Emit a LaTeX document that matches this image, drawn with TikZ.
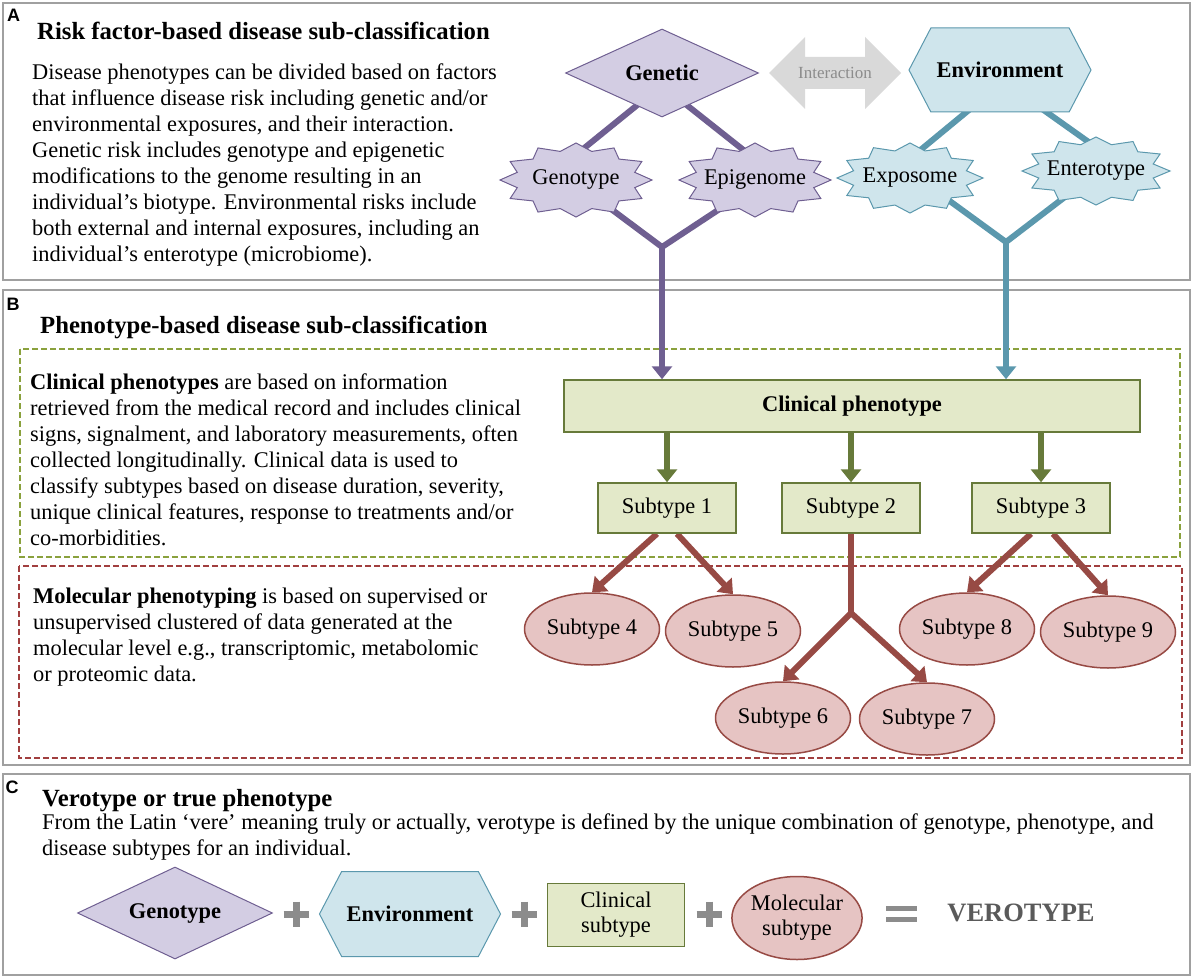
\documentclass[tikz,border=0pt]{standalone}
\usepackage{fontspec}
\setmainfont{Liberation Serif}
\setsansfont{Liberation Sans}
\usetikzlibrary{shapes.geometric}
\usetikzlibrary{shapes.symbols}
\usetikzlibrary{arrows.meta}
\usetikzlibrary{backgrounds}

\definecolor{panelgray}{RGB}{160,160,160}
\definecolor{genfill}{RGB}{211,205,227}
\definecolor{gendraw}{RGB}{111,95,145}
\definecolor{envfill}{RGB}{207,229,236}
\definecolor{envdraw}{RGB}{91,152,173}
\definecolor{clinfill}{RGB}{227,233,201}
\definecolor{clindraw}{RGB}{103,122,58}
\definecolor{clindash}{RGB}{138,161,61}
\definecolor{molfill}{RGB}{230,196,195}
\definecolor{moldraw}{RGB}{151,74,68}
\definecolor{moldash}{RGB}{161,63,63}
\definecolor{interfill}{RGB}{217,217,217}
\definecolor{intertext}{RGB}{140,140,140}
\definecolor{plusgray}{RGB}{140,140,140}
\definecolor{verogray}{RGB}{90,90,90}

% star burst: name, x, y, rx, ry, fill/draw colours, text
% (the named node is the inner ellipse of the star)
\newcommand\burst[7]{%
  \filldraw[#6, line width=1pt] plot[samples at={0,15,...,345}]
    ({#2+(1-0.2*mod(\x/15,2))*#4*cos(\x)},{#3+(1-0.2*mod(\x/15,2))*#5*sin(\x)}) -- cycle;
  \node[ellipse, inner sep=0, outer sep=0, minimum width={1.6*#4pt}, minimum height={1.6*#5pt}] (#1) at (#2,#3) {#7};}

\tikzset{
  panel/.style={draw=panelgray, line width=2pt},
  panellabel/.style={font=\sffamily\bfseries\fontsize{18}{20}\selectfont, inner sep=0},
  paneltitle/.style={font=\bfseries\fontsize{24.7}{28}\selectfont, anchor=base west, inner sep=0},
  textblock/.style={anchor=north west, align=left, inner sep=0},
  genshape/.style={diamond, fill=genfill, draw=gendraw, line width=1pt, inner sep=0, aspect=2.2},
  envshape/.style={signal, signal to=west and east, signal pointer angle=125, fill=envfill, draw=envdraw, line width=1pt, inner sep=0},
  clinbox/.style={rectangle, fill=clinfill, draw=clindraw, line width=1.5pt, inner sep=0},
  molshape/.style={ellipse, fill=molfill, draw=moldraw, line width=1.5pt, inner sep=0, minimum width=135pt, minimum height=72pt},
  genline/.style={draw=gendraw, line width=6pt},
  envline/.style={draw=envdraw, line width=6pt},
  clinline/.style={draw=clindraw, line width=6pt},
  molline/.style={draw=moldraw, line width=6pt},
  plusbar/.style={draw=plusgray, line width=7pt},
}

\begin{document}
\begin{tikzpicture}[x=1pt,y=-1pt,font=\fontsize{22.4}{26}\selectfont,>={Triangle[length=13pt,width=20pt]}]
\useasboundingbox (0,0) rectangle (1194,979);

% panel labels and titles
\node[panellabel] (labA) at (13.5,15.5) {A};
\node[panellabel] (labB) at (13,304) {B};
\node[panellabel] (labC) at (12,787) {C};
\node[paneltitle] (titA) at (37,40) {Risk factor-based disease sub-classification};
\node[paneltitle] (titB) at (40,333) {Phenotype-based disease sub-classification};
\node[paneltitle] (titC) at (42,806) {Verotype or true phenotype};

% text blocks
\node[textblock] (risktext) at (32,64) {Disease phenotypes can be divided based on factors\\
that influence disease risk including genetic and/or\\
environmental exposures, and their interaction.\\
Genetic risk includes genotype and epigenetic\\
modifications to the genome resulting in an\\
individual’s biotype. Environmental risks include\\
both external and internal exposures, including an\\
individual’s enterotype (microbiome).};
\node[textblock] (clintext) at (30,374) {\textbf{Clinical phenotypes} are based on information\\
retrieved from the medical record and includes clinical\\
signs, signalment, and laboratory measurements, often\\
collected longitudinally. Clinical data is used to\\
classify subtypes based on disease duration, severity,\\
unique clinical features, response to treatments and/or\\
co-morbidities.};
\node[textblock] (moltext) at (33,588) {\textbf{Molecular phenotyping} is based on supervised or\\
unsupervised clustered of data generated at the\\
molecular level e.g., transcriptomic, metabolomic\\
or proteomic data.};
\node[textblock] (verotext) at (42,814) {From the Latin ‘vere’ meaning truly or actually, verotype is defined by the unique combination of genotype, phenotype, and\\
disease subtypes for an individual.};

% risk factors
\node[genshape, minimum width=193pt, minimum height=88pt] (genetic) at (662,73) {\textbf{Genetic}};
\node[envshape, minimum width=182pt, minimum height=84pt] (environment) at (1000,70) {\textbf{Environment}};
\fill[interfill] (769,73) -- (805,37) -- (805,57) -- (865,57) -- (865,37) -- (901,73)
  -- (865,109) -- (865,89) -- (805,89) -- (805,109) -- cycle;
\node[font=\fontsize{17}{20}\selectfont, text=intertext] (interact) at (835,73) {Interaction};

\burst{genotype}{576}{180}{76}{37}{fill=genfill, draw=gendraw}{Genotype}
\burst{epigenome}{755}{180}{76}{37}{fill=genfill, draw=gendraw}{Epigenome}
\burst{exposome}{910}{178}{73}{35}{fill=envfill, draw=envdraw}{Exposome}
\burst{enterotype}{1096}{171}{74}{34}{fill=envfill, draw=envdraw}{Enterotype}

% clinical phenotypes
\node[clinbox, minimum width=576pt, minimum height=52pt] (clinical) at (852,406) {\textbf{Clinical phenotype}};
\node[clinbox, minimum width=138pt, minimum height=50pt] (subone) at (667,508) {Subtype 1};
\node[clinbox, minimum width=138pt, minimum height=50pt] (subtwo) at (851,508) {Subtype 2};
\node[clinbox, minimum width=138pt, minimum height=50pt] (subthree) at (1041,508) {Subtype 3};

% molecular phenotypes
\node[molshape] (subfour) at (592,629) {Subtype 4};
\node[molshape] (subfive) at (733,631) {Subtype 5};
\node[molshape] (subsix) at (783,718) {Subtype 6};
\node[molshape] (subseven) at (927,719) {Subtype 7};
\node[molshape] (subeight) at (967,629) {Subtype 8};
\node[molshape] (subnine) at (1108,632) {Subtype 9};
\coordinate (split) at (851,613);

% verotype row
\node[genshape, minimum width=195pt, minimum height=92pt] (vgenotype) at (175,913) {\textbf{Genotype}};
\node[envshape, minimum width=181pt, minimum height=85pt] (venvironment) at (410,914) {\textbf{Environment}};
\node[clinbox, minimum width=137pt, minimum height=63pt, align=center, font=\fontsize{22.4}{25}\selectfont] (vclinical) at (616,915) {Clinical\\subtype};
\node[molshape, minimum width=130pt, minimum height=83pt, align=center, font=\fontsize{22.4}{25}\selectfont] (vmolecular) at (797,918) {Molecular\\subtype};
\node[font=\bfseries\fontsize{26.5}{30}\selectfont, text=verogray] (verotype) at (1021,913) {VEROTYPE};
\foreach \px in {296,524,709}
  \draw[plusbar] (\px-12.5,914) -- (\px+12.5,914) (\px,901.5) -- (\px,926.5);
\draw[draw=plusgray, line width=5pt] (886,908) -- (917,908) (886,919) -- (917,919);

\begin{scope}[on background layer]
% panels
\draw[panel] (3,3) rectangle (1190,280);
\draw[panel] (3,290) rectangle (1190,765);
\draw[panel] (3,774) rectangle (1190,975);
\draw[draw=clindash, line width=1.5pt, dash pattern=on 6pt off 3pt] (20,349) rectangle (1180,557);
\draw[draw=moldash, line width=1.5pt, dash pattern=on 6pt off 3pt] (19,566) rectangle (1182,758);

% connectors
\coordinate (gjoin) at (662,247);
\coordinate (ejoin) at (1006,242);
\draw[genline, shorten <=-8pt] (genetic.232) -- (genotype.80);
\draw[genline, shorten <=-8pt] (genetic.308) -- (epigenome.110);
\draw[genline] (genotype.-40) -- (gjoin) -- (epigenome.-140);
\draw[genline, ->] (gjoin) -- (gjoin |- clinical.north);
\draw[envline] ([xshift=-22pt,yshift=10pt]environment.south) -- (exposome.70);
\draw[envline] ([xshift=33pt,yshift=10pt]environment.south) -- (enterotype.100);
\draw[envline] (exposome.-30) -- (ejoin) -- (enterotype.-140);
\draw[envline, ->] (ejoin) -- (ejoin |- clinical.north);
\draw[clinline, ->] (subone.north |- clinical.south) -- (subone.north);
\draw[clinline, ->] (subtwo.north |- clinical.south) -- (subtwo.north);
\draw[clinline, ->] (subthree.north |- clinical.south) -- (subthree.north);
\draw[molline, ->] ([xshift=-10pt]subone.south) -- (subfour.north);
\draw[molline, ->] ([xshift=10pt]subone.south) -- (subfive.north);
\draw[molline] (subtwo.south) -- (split);
\draw[molline, <->] (subsix.north) -- (split) -- (subseven.north);
\draw[molline, ->] ([xshift=-10pt]subthree.south) -- (subeight.north);
\draw[molline, ->] ([xshift=12pt]subthree.south) -- (subnine.north);
\end{scope}
\end{tikzpicture}
\end{document}
